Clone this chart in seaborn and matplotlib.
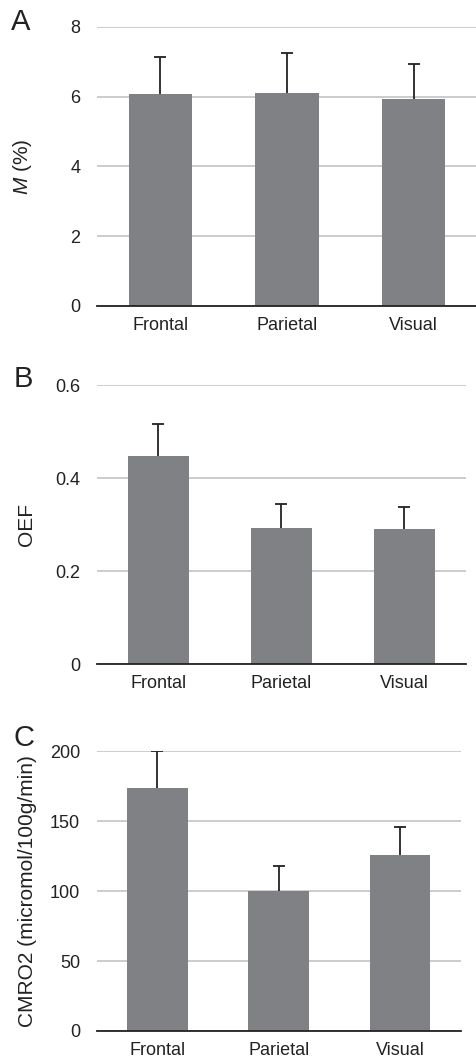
import pandas as pd
import matplotlib.pyplot as plt
import seaborn as sns

# Values
regions = ['Frontal', 'Parietal', 'Visual']

m_mean = [6.09, 6.12, 5.93]
m_err = [1.04, 1.14, 1.02]

oef_mean = [0.448, 0.292, 0.291]
oef_err = [0.068, 0.053, 0.046]

cmro2_mean = [173.6, 99.9, 125.7]
cmro2_err = [26.4, 18.1, 20.3]

sns.set_style('white')
plt.rcParams['font.family'] = ['Liberation Sans', 'DejaVu Sans']
plt.rcParams['mathtext.fontset'] = 'custom'
plt.rcParams['mathtext.it'] = 'Liberation Sans:italic'
plt.rcParams['mathtext.rm'] = 'Liberation Sans'
plt.rcParams['text.color'] = '#222222'
plt.rcParams['axes.labelcolor'] = '#222222'
plt.rcParams['xtick.color'] = '#222222'
plt.rcParams['ytick.color'] = '#222222'

bar_color = '#808185'
err_color = '#222222'

fig = plt.figure(figsize=(4.77, 10.61), dpi=100)

panels = [
    ('A', m_mean, m_err, [0, 2, 4, 6, 8], ['0', '2', '4', '6', '8'], '$\\mathit{M}$ (%)',
     [0.203, 0.7116, 0.797, 0.263], 1.016),
    ('B', oef_mean, oef_err, [0, 0.2, 0.4, 0.6], ['0', '0.2', '0.4', '0.6'], 'OEF',
     [0.203, 0.374, 0.774, 0.263], 1.022),
    ('C', cmro2_mean, cmro2_err, [0, 50, 100, 150, 200], ['0', '50', '100', '150', '200'],
     'CMRO2 (micromol/100g/min)', [0.203, 0.0283, 0.763, 0.2635], 1.048),
]

for letter, means, errs, ticks, ticklabels, ylabel, rect, letter_y in panels:
    ax = fig.add_axes(rect)
    df = pd.DataFrame({'region': regions, 'value': means})
    sns.barplot(data=df, x='region', y='value', color=bar_color, width=0.5,
                saturation=1, errorbar=None, linewidth=0, ax=ax, zorder=2)
    # one-sided error bars: stem from the bar top, cap on the upper end only
    x = list(range(len(regions)))
    tops = [m + e for m, e in zip(means, errs)]
    ax.errorbar(x=x, y=means, yerr=[[0] * len(errs), errs],
                fmt='none', ecolor=err_color, elinewidth=1.3, capsize=0, zorder=3)
    ax.plot(x, tops, linestyle='none', marker='_', markersize=9,
            markeredgewidth=1.3, color=err_color, zorder=3)
    ax.set_xlim(-0.5, 2.5)
    ax.set_ylim(0, ticks[-1])
    ax.set_yticks(ticks)
    ax.set_yticklabels(ticklabels)
    ax.yaxis.grid(True, color='#bfbfbf', linewidth=1.1, zorder=0)
    ax.set_axisbelow(True)
    for side in ['left', 'right', 'top']:
        ax.spines[side].set_visible(False)
    ax.spines['bottom'].set_color('#222222')
    ax.spines['bottom'].set_linewidth(1.3)
    ax.spines['bottom'].set_zorder(4)
    ax.tick_params(axis='both', length=0, labelsize=13)
    ax.tick_params(axis='y', pad=12)
    ax.tick_params(axis='x', pad=8)
    ax.set_xlabel('')
    ax.set_ylabel(ylabel, fontsize=15)
    ax.yaxis.set_label_coords(-0.165, 0.5)
    ax.text(-0.2, letter_y, letter, transform=ax.transAxes, fontsize=21,
            ha='center', va='center')

fig.savefig('out.png', dpi=100)
